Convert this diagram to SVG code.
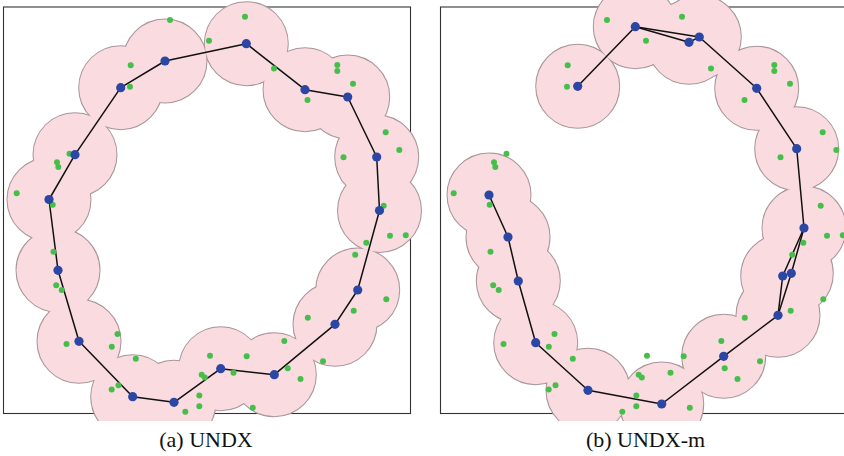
<svg xmlns="http://www.w3.org/2000/svg" xmlns:xlink="http://www.w3.org/1999/xlink" width="844" height="456" viewBox="0 0 844 456">
  <style>
    .frame { fill: none; stroke: #333; stroke-width: 1.1; }
    .halo-edge { fill: none; stroke: #a8959a; stroke-width: 2; }
    .halo-fill { fill: #f9dbe0; stroke: none; }
    .link { fill: none; stroke: #111; stroke-width: 1.5; stroke-linejoin: round; }
    .sample { fill: #46bf4a; }
    .node { fill: #2c47a3; }
    .caption { font-family: "Liberation Serif", "Times New Roman", serif; font-size: 22px; fill: #111; text-anchor: middle; }
  </style>
  <defs>
    <clipPath id="plotClip">
      <rect x="0" y="0" width="844" height="421"/>
    </clipPath>
    <!-- shared sample points (green), drawn in both panels -->
    <g id="samples">
      <circle class="sample" cx="170" cy="20" r="3"/>
      <circle class="sample" cx="209" cy="40.7" r="3"/>
      <circle class="sample" cx="130.7" cy="65.3" r="3"/>
      <circle class="sample" cx="130" cy="86.7" r="3"/>
      <circle class="sample" cx="69.5" cy="153.7" r="3"/>
      <circle class="sample" cx="57" cy="162.3" r="3"/>
      <circle class="sample" cx="58.3" cy="167" r="3"/>
      <circle class="sample" cx="16.7" cy="193.3" r="3"/>
      <circle class="sample" cx="52.7" cy="204.7" r="3"/>
      <circle class="sample" cx="245" cy="16.7" r="3"/>
      <circle class="sample" cx="274" cy="68.5" r="3"/>
      <circle class="sample" cx="337.3" cy="65" r="3"/>
      <circle class="sample" cx="337.3" cy="71" r="3"/>
      <circle class="sample" cx="353" cy="83.7" r="3"/>
      <circle class="sample" cx="307.5" cy="100" r="3"/>
      <circle class="sample" cx="385.7" cy="132.3" r="3"/>
      <circle class="sample" cx="399.3" cy="150" r="3"/>
      <circle class="sample" cx="343.5" cy="157.3" r="3"/>
      <circle class="sample" cx="383.7" cy="205.7" r="3"/>
      <circle class="sample" cx="53.5" cy="251.7" r="3"/>
      <circle class="sample" cx="56.2" cy="285.2" r="3"/>
      <circle class="sample" cx="61.7" cy="290" r="3"/>
      <circle class="sample" cx="117.5" cy="334" r="3"/>
      <circle class="sample" cx="111.8" cy="346.7" r="3"/>
      <circle class="sample" cx="66.5" cy="344" r="3"/>
      <circle class="sample" cx="135.8" cy="358.7" r="3"/>
      <circle class="sample" cx="118.5" cy="385.3" r="3"/>
      <circle class="sample" cx="111.7" cy="389.5" r="3"/>
      <circle class="sample" cx="201.7" cy="374.7" r="3"/>
      <circle class="sample" cx="204.8" cy="377.5" r="3"/>
      <circle class="sample" cx="199.3" cy="395.5" r="3"/>
      <circle class="sample" cx="199.3" cy="406.3" r="3"/>
      <circle class="sample" cx="185.3" cy="411.7" r="3"/>
      <circle class="sample" cx="210" cy="355.7" r="3"/>
      <circle class="sample" cx="390" cy="235.7" r="3"/>
      <circle class="sample" cx="405.8" cy="235.3" r="3"/>
      <circle class="sample" cx="366.3" cy="242.7" r="3"/>
      <circle class="sample" cx="355.2" cy="254.7" r="3"/>
      <circle class="sample" cx="386.3" cy="299.3" r="3"/>
      <circle class="sample" cx="353.7" cy="310.7" r="3"/>
      <circle class="sample" cx="307.8" cy="317.7" r="3"/>
      <circle class="sample" cx="323" cy="361.3" r="3"/>
      <circle class="sample" cx="284.3" cy="341" r="3"/>
      <circle class="sample" cx="287.7" cy="368.3" r="3"/>
      <circle class="sample" cx="300.5" cy="379" r="3"/>
      <circle class="sample" cx="246.7" cy="356.3" r="3"/>
      <circle class="sample" cx="233.5" cy="372.8" r="3"/>
      <circle class="sample" cx="252.8" cy="407.7" r="3"/>
    </g>
  </defs>

  <rect x="0" y="0" width="844" height="456" fill="#ffffff"/>

  <!-- panel (a): UNDX -->
  <g id="panel-a">
    <rect class="frame" x="3.5" y="7" width="407" height="406.5"/>
    <g id="a-regions" clip-path="url(#plotClip)">
      <g class="halo-edge">
        <circle cx="246.3" cy="43.7" r="41.5"/>
        <circle cx="165" cy="61" r="41.5"/>
        <circle cx="120.7" cy="87.7" r="41.5"/>
        <circle cx="75" cy="154.7" r="41.5"/>
        <circle cx="49" cy="199.5" r="41.5"/>
        <circle cx="58" cy="270.3" r="41.5"/>
        <circle cx="79" cy="341.3" r="41.5"/>
        <circle cx="132.7" cy="396.7" r="41.5"/>
        <circle cx="174" cy="402.3" r="41.5"/>
        <circle cx="220.7" cy="368.7" r="41.5"/>
        <circle cx="274.3" cy="374.7" r="41.5"/>
        <circle cx="335" cy="324.3" r="41.5"/>
        <circle cx="357.7" cy="290" r="41.5"/>
        <circle cx="379.5" cy="210.5" r="41.5"/>
        <circle cx="376.7" cy="157" r="41.5"/>
        <circle cx="347.7" cy="97" r="41.5"/>
        <circle cx="305" cy="89.7" r="41.5"/>
      </g>
      <g class="halo-fill">
        <circle cx="246.3" cy="43.7" r="41.5"/>
        <circle cx="165" cy="61" r="41.5"/>
        <circle cx="120.7" cy="87.7" r="41.5"/>
        <circle cx="75" cy="154.7" r="41.5"/>
        <circle cx="49" cy="199.5" r="41.5"/>
        <circle cx="58" cy="270.3" r="41.5"/>
        <circle cx="79" cy="341.3" r="41.5"/>
        <circle cx="132.7" cy="396.7" r="41.5"/>
        <circle cx="174" cy="402.3" r="41.5"/>
        <circle cx="220.7" cy="368.7" r="41.5"/>
        <circle cx="274.3" cy="374.7" r="41.5"/>
        <circle cx="335" cy="324.3" r="41.5"/>
        <circle cx="357.7" cy="290" r="41.5"/>
        <circle cx="379.5" cy="210.5" r="41.5"/>
        <circle cx="376.7" cy="157" r="41.5"/>
        <circle cx="347.7" cy="97" r="41.5"/>
        <circle cx="305" cy="89.7" r="41.5"/>
      </g>
    </g>
    <g id="a-connectors">
      <polygon class="link" points="246.3,43.7 165,61 120.7,87.7 75,154.7 49,199.5 58,270.3 79,341.3 132.7,396.7 174,402.3 220.7,368.7 274.3,374.7 335,324.3 357.7,290 379.5,210.5 376.7,157 347.7,97 305,89.7"/>
    </g>
    <use id="a-samples" xlink:href="#samples"/>
    <g id="a-nodes">
      <g id="a-n1"><circle class="node" cx="246.3" cy="43.7" r="4.6"/></g>
      <g id="a-n2"><circle class="node" cx="165" cy="61" r="4.6"/></g>
      <g id="a-n3"><circle class="node" cx="120.7" cy="87.7" r="4.6"/></g>
      <g id="a-n4"><circle class="node" cx="75" cy="154.7" r="4.6"/></g>
      <g id="a-n5"><circle class="node" cx="49" cy="199.5" r="4.6"/></g>
      <g id="a-n6"><circle class="node" cx="58" cy="270.3" r="4.6"/></g>
      <g id="a-n7"><circle class="node" cx="79" cy="341.3" r="4.6"/></g>
      <g id="a-n8"><circle class="node" cx="132.7" cy="396.7" r="4.6"/></g>
      <g id="a-n9"><circle class="node" cx="174" cy="402.3" r="4.6"/></g>
      <g id="a-n10"><circle class="node" cx="220.7" cy="368.7" r="4.6"/></g>
      <g id="a-n11"><circle class="node" cx="274.3" cy="374.7" r="4.6"/></g>
      <g id="a-n12"><circle class="node" cx="335" cy="324.3" r="4.6"/></g>
      <g id="a-n13"><circle class="node" cx="357.7" cy="290" r="4.6"/></g>
      <g id="a-n14"><circle class="node" cx="379.5" cy="210.5" r="4.6"/></g>
      <g id="a-n15"><circle class="node" cx="376.7" cy="157" r="4.6"/></g>
      <g id="a-n16"><circle class="node" cx="347.7" cy="97" r="4.6"/></g>
      <g id="a-n17"><circle class="node" cx="305" cy="89.7" r="4.6"/></g>
    </g>
    <text class="caption" x="206" y="447">(a)  UNDX</text>
  </g>

  <!-- panel (b): UNDX-m -->
  <g id="panel-b">
    <rect class="frame" x="440.5" y="7" width="407" height="406.5"/>
    <g id="b-regions" clip-path="url(#plotClip)">
      <g class="halo-edge">
        <circle cx="577.7" cy="86.3" r="41.5"/>
        <circle cx="635.3" cy="26.7" r="41.5"/>
        <circle cx="699.3" cy="37" r="41.5"/>
        <circle cx="689" cy="42.3" r="41.5"/>
        <circle cx="756.7" cy="88.3" r="41.5"/>
        <circle cx="796.7" cy="148.7" r="41.5"/>
        <circle cx="804" cy="228" r="41.5"/>
        <circle cx="782.7" cy="276" r="41.5"/>
        <circle cx="791.3" cy="273.3" r="41.5"/>
        <circle cx="778" cy="315.3" r="41.5"/>
        <circle cx="723.7" cy="356.3" r="41.5"/>
        <circle cx="661.7" cy="404" r="41.5"/>
        <circle cx="588" cy="390.3" r="41.5"/>
        <circle cx="535.7" cy="342.7" r="41.5"/>
        <circle cx="518.3" cy="281" r="41.5"/>
        <circle cx="508" cy="237" r="41.5"/>
        <circle cx="489" cy="195" r="41.5"/>
      </g>
      <g class="halo-fill">
        <circle cx="577.7" cy="86.3" r="41.5"/>
        <circle cx="635.3" cy="26.7" r="41.5"/>
        <circle cx="699.3" cy="37" r="41.5"/>
        <circle cx="689" cy="42.3" r="41.5"/>
        <circle cx="756.7" cy="88.3" r="41.5"/>
        <circle cx="796.7" cy="148.7" r="41.5"/>
        <circle cx="804" cy="228" r="41.5"/>
        <circle cx="782.7" cy="276" r="41.5"/>
        <circle cx="791.3" cy="273.3" r="41.5"/>
        <circle cx="778" cy="315.3" r="41.5"/>
        <circle cx="723.7" cy="356.3" r="41.5"/>
        <circle cx="661.7" cy="404" r="41.5"/>
        <circle cx="588" cy="390.3" r="41.5"/>
        <circle cx="535.7" cy="342.7" r="41.5"/>
        <circle cx="518.3" cy="281" r="41.5"/>
        <circle cx="508" cy="237" r="41.5"/>
        <circle cx="489" cy="195" r="41.5"/>
      </g>
    </g>
    <g id="b-connectors">
      <polyline class="link" points="577.7,86.3 635.3,26.7 699.3,37 756.7,88.3 796.7,148.7 804,228 782.7,276 778,315.3 723.7,356.3 661.7,404 588,390.3 535.7,342.7 518.3,281 508,237 489,195"/>
      <polyline class="link" points="635.3,26.7 689,42.3 699.3,37"/>
      <polyline class="link" points="804,228 791.3,273.3 778,315.3"/>
    </g>
    <use id="b-samples" xlink:href="#samples" transform="translate(437,0)"/>
    <g id="b-nodes">
      <g id="b-n1"><circle class="node" cx="577.7" cy="86.3" r="4.6"/></g>
      <g id="b-n2"><circle class="node" cx="635.3" cy="26.7" r="4.6"/></g>
      <g id="b-n3"><circle class="node" cx="699.3" cy="37" r="4.6"/></g>
      <g id="b-n4"><circle class="node" cx="689" cy="42.3" r="4.6"/></g>
      <g id="b-n5"><circle class="node" cx="756.7" cy="88.3" r="4.6"/></g>
      <g id="b-n6"><circle class="node" cx="796.7" cy="148.7" r="4.6"/></g>
      <g id="b-n7"><circle class="node" cx="804" cy="228" r="4.6"/></g>
      <g id="b-n8"><circle class="node" cx="782.7" cy="276" r="4.6"/></g>
      <g id="b-n9"><circle class="node" cx="791.3" cy="273.3" r="4.6"/></g>
      <g id="b-n10"><circle class="node" cx="778" cy="315.3" r="4.6"/></g>
      <g id="b-n11"><circle class="node" cx="723.7" cy="356.3" r="4.6"/></g>
      <g id="b-n12"><circle class="node" cx="661.7" cy="404" r="4.6"/></g>
      <g id="b-n13"><circle class="node" cx="588" cy="390.3" r="4.6"/></g>
      <g id="b-n14"><circle class="node" cx="535.7" cy="342.7" r="4.6"/></g>
      <g id="b-n15"><circle class="node" cx="518.3" cy="281" r="4.6"/></g>
      <g id="b-n16"><circle class="node" cx="508" cy="237" r="4.6"/></g>
      <g id="b-n17"><circle class="node" cx="489" cy="195" r="4.6"/></g>
    </g>
    <text class="caption" x="645.5" y="447">(b)  UNDX-m</text>
  </g>
</svg>
